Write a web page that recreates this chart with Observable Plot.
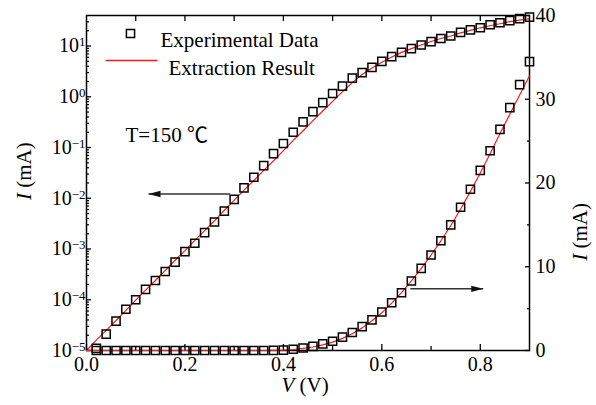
<!DOCTYPE html>
<html><head><meta charset="utf-8">
<script src="https://cdn.jsdelivr.net/npm/d3@7"></script>
<script src="https://cdn.jsdelivr.net/npm/@observablehq/plot@0.6"></script>
<style>
body{margin:0;background:#fff;}
#wrap{position:relative;width:596px;height:405px;}
#wrap svg{position:absolute;left:0;top:0;font-family:"Liberation Serif","Times New Roman",serif !important;}
</style></head><body><div id="wrap"></div>
<script>
// ---- data ----
const voltage = [0.02,0.04,0.06,0.08,0.10,0.12,0.14,0.16,0.18,0.20,0.22,0.24,0.26,0.28,0.30,
  0.32,0.34,0.36,0.38,0.40,0.42,0.44,0.46,0.48,0.50,0.52,0.54,0.56,0.58,0.60,
  0.62,0.64,0.66,0.68,0.70,0.72,0.74,0.76,0.78,0.80,0.82,0.84,0.86,0.88,0.90];
// experimental current, left (log) axis, mA
const currentLog = [1.1e-5,2.1e-5,3.8e-5,6.5e-5,1.0e-4,1.6e-4,2.4e-4,3.6e-4,5.5e-4,8.9e-4,1.3e-3,2.1e-3,3.4e-3,5.6e-3,9.5e-3,
  0.016,0.026,0.044,0.076,0.12,0.20,0.32,0.51,0.77,1.16,1.62,2.34,3.0,3.8,5.0,
  6.2,7.5,8.9,10.5,12.2,14.1,15.8,18.6,20.9,22.9,26.3,28.8,31.6,34.7,37.2];
// experimental current, right (linear) axis, mA
const currentLin = [0,0,0,0,0,0,0,0,0,0,0,0,0,0,0,
  0,0,0,0.02,0.05,0.15,0.3,0.5,0.8,1.1,1.6,2.15,2.85,3.65,4.6,
  5.7,6.9,8.3,9.8,11.4,13.1,15.0,17.1,19.25,21.5,23.85,26.4,29.0,31.75,34.5];
const fitVoltage = [0.00,0.02,0.04,0.06,0.08,0.10,0.12,0.14,0.16,0.18,0.20,0.22,0.24,0.26,0.28,
  0.30,0.32,0.34,0.36,0.38,0.40,0.42,0.44,0.46,0.48,0.50,0.52,0.54,0.56,0.58,
  0.60,0.62,0.64,0.66,0.68,0.70,0.72,0.74,0.76,0.78,0.80,0.82,0.84,0.86,0.88,0.90];
const fitLog = [1.0e-5,1.6e-5,2.5e-5,3.9e-5,6.2e-5,9.8e-5,1.55e-4,2.4e-4,3.8e-4,6.0e-4,9.3e-4,1.48e-3,2.3e-3,3.6e-3,5.8e-3,
  9.1e-3,0.0145,0.0224,0.0355,0.055,0.087,0.138,0.214,0.339,0.525,0.81,1.26,1.9,2.75,3.7,
  4.8,6.1,7.5,8.9,10.5,12.3,14.1,15.8,18.2,20.4,22.9,25.1,27.5,30.2,32.4,34.7];
const fitLin = [0,0,0,0,0,0,0,0,0,0,0,0,0,0,0,
  0,0,0,0,0.02,0.05,0.12,0.25,0.42,0.68,1.0,1.45,2.0,2.7,3.55,
  4.5,5.65,6.9,8.3,9.8,11.4,13.1,14.9,16.9,19.0,21.2,23.5,25.9,28.2,30.5,32.8];

const logMajorTicks = [1e-5,1e-4,1e-3,1e-2,1e-1,1,10];
const logMinorTicks = [2e-5,3e-5,4e-5,5e-5,6e-5,7e-5,8e-5,9e-5,
  2e-4,3e-4,4e-4,5e-4,6e-4,7e-4,8e-4,9e-4,
  2e-3,3e-3,4e-3,5e-3,6e-3,7e-3,8e-3,9e-3,
  0.02,0.03,0.04,0.05,0.06,0.07,0.08,0.09,
  0.2,0.3,0.4,0.5,0.6,0.7,0.8,0.9,
  2,3,4,5,6,7,8,9,20,30];
const linMajorTicks = [0,10,20,30,40];
const linMinorTicks = [5,15,25,35];
const xMajorTicks = [0,0.2,0.4,0.6,0.8];
const xMinorTicks = [0.1,0.3,0.5,0.7];
const xTopTicks = [0.1,0.2,0.3,0.4,0.5,0.6,0.7,0.8];

const legendLabels = ["Experimental Data","Extraction Result"];
const tempLabel = "T=150 \u2103";
const yTitle = "I (mA)";
const xTitle = "V (V)";
// arrow annotations (data units)
const leftArrow = [{x1:0.292, x2:0.126, y:0.0121}];
const rightArrow = [{x1:0.658, x2:0.806, y:7.36}];

// ---- build ----
const logRows = voltage.map((v,i)=>({v, i: currentLog[i]}));
const linRows = voltage.map((v,i)=>({v, i: currentLin[i]}));
const fitLogRows = fitVoltage.map((v,i)=>({v, i: fitLog[i]}));
const fitLinRows = fitVoltage.map((v,i)=>({v, i: fitLin[i]}));

const serif = "'Liberation Serif','Times New Roman',serif";
const RED = "#ff1a1a";
const common = {width:596, height:405, marginLeft:86, marginRight:67, marginTop:15, marginBottom:55};
const sqOpts = {x:"v", y:"i", symbol:"square", r:4.6, stroke:"black", strokeWidth:1.5, fill:"none"};
const headLeft = {draw(c){c.moveTo(0,0);c.lineTo(12,-3.2);c.lineTo(12,3.2);c.closePath();}};
const headRight = {draw(c){c.moveTo(0,0);c.lineTo(-12,-3.2);c.lineTo(-12,3.2);c.closePath();}};
const lineSym = {draw(c){c.moveTo(-26,0);c.lineTo(26,0);}};

const p1 = Plot.plot({
  ...common,
  x:{domain:[0,0.9], label:null},
  style:{fontFamily:serif, fontSize:"20px", background:"white", color:"black", overflow:"visible"},
  y:{type:"log", domain:[1e-5,40], label:null},
  marks:[
    Plot.line(fitLogRows,{x:"v", y:"i", stroke:RED, strokeWidth:1.2}),
    Plot.dot(logRows, sqOpts),
    Plot.axisY(logMajorTicks,{anchor:"left", tickSize:-5, tickPadding:6, strokeWidth:1.3,
      tickFormat:d=>"10^"+Math.round(Math.log10(d))}),
    Plot.axisY(logMinorTicks,{anchor:"left", tickSize:-3, strokeWidth:1.2, tickFormat:()=>null}),
    Plot.axisX(xMajorTicks,{anchor:"bottom", tickSize:-6, tickPadding:12, strokeWidth:1.3, tickFormat:d3.format(".1f")}),
    Plot.axisX(xMinorTicks,{anchor:"bottom", tickSize:-4, strokeWidth:1.3, tickFormat:()=>null}),
    Plot.axisX(xTopTicks,{anchor:"top", tickSize:-5, strokeWidth:1.3, tickFormat:()=>null}),
    Plot.frame({stroke:"black", strokeWidth:1.5}),
    Plot.link(leftArrow,{x1:"x1", x2:"x2", y1:"y", y2:"y", stroke:"#333", strokeWidth:1.5}),
    Plot.dot(leftArrow,{x:"x2", y:"y", symbol:headLeft, fill:"#111", stroke:"none"}),
    // legend
    Plot.dot([legendLabels[0]],{frameAnchor:"top-left", dx:44, dy:18, symbol:"square", r:4.6, stroke:"black", strokeWidth:1.5, fill:"none"}),
    Plot.text([legendLabels[0]],{frameAnchor:"top-left", textAnchor:"start", dx:74, dy:17, fontSize:21}),
    Plot.dot([legendLabels[1]],{frameAnchor:"top-left", dx:45, dy:45, symbol:lineSym, stroke:RED, strokeWidth:1.3, fill:"none"}),
    Plot.text([legendLabels[1]],{frameAnchor:"top-left", textAnchor:"start", dx:82, dy:45, fontSize:21}),
    Plot.text([tempLabel],{frameAnchor:"top-left", textAnchor:"start", dx:39, dy:112, fontSize:21,
      fontFamily:"'Liberation Serif','Noto Sans CJK SC',serif"}),
    Plot.text([yTitle],{frameAnchor:"left", rotate:-90, dx:-62, dy:17, fontSize:21}),
    Plot.text([xTitle],{frameAnchor:"bottom", dx:-3, dy:41, fontSize:21})
  ]
});

const p2 = Plot.plot({
  ...common,
  x:{domain:[0,0.9], label:null, axis:null},
  style:{fontFamily:serif, fontSize:"20px", background:"transparent", color:"black", overflow:"visible"},
  y:{domain:[0,40], label:null},
  marks:[
    Plot.line(fitLinRows,{x:"v", y:"i", stroke:RED, strokeWidth:1.2}),
    Plot.dot(linRows, sqOpts),
    Plot.axisY(linMajorTicks,{anchor:"right", tickSize:-5, tickPadding:11, strokeWidth:1.3, tickFormat:d=>String(d)}),
    Plot.axisY(linMinorTicks,{anchor:"right", tickSize:-3, strokeWidth:1.3, tickFormat:()=>null}),
    Plot.link(rightArrow,{x1:"x1", x2:"x2", y1:"y", y2:"y", stroke:"#333", strokeWidth:1.5}),
    Plot.dot(rightArrow,{x:"x2", y:"y", symbol:headRight, fill:"#111", stroke:"none"}),
    Plot.text([yTitle],{frameAnchor:"right", rotate:-90, dx:51, dy:20, fontSize:21})
  ]
});

const wrap = document.getElementById("wrap");
wrap.append(p1, p2);

// typographic post-processing: superscripts and italic symbols
for (const svg of [p1, p2]) {
  d3.select(svg).selectAll("text").each(function() {
    const t = this.textContent;
    const m = /^10\^(-?\d+)$/.exec(t);
    const s = d3.select(this);
    if (m) {
      s.text("10");
      s.append("tspan").attr("dy", "-6").attr("font-size", "13px").text(m[1].replace("-", "\u2212"));
    } else if (t === yTitle || t === xTitle) {
      s.text("");
      s.append("tspan").attr("font-style", "italic").text(t[0]);
      s.append("tspan").text(t.slice(1));
    }
  });
}
</script></body></html>
